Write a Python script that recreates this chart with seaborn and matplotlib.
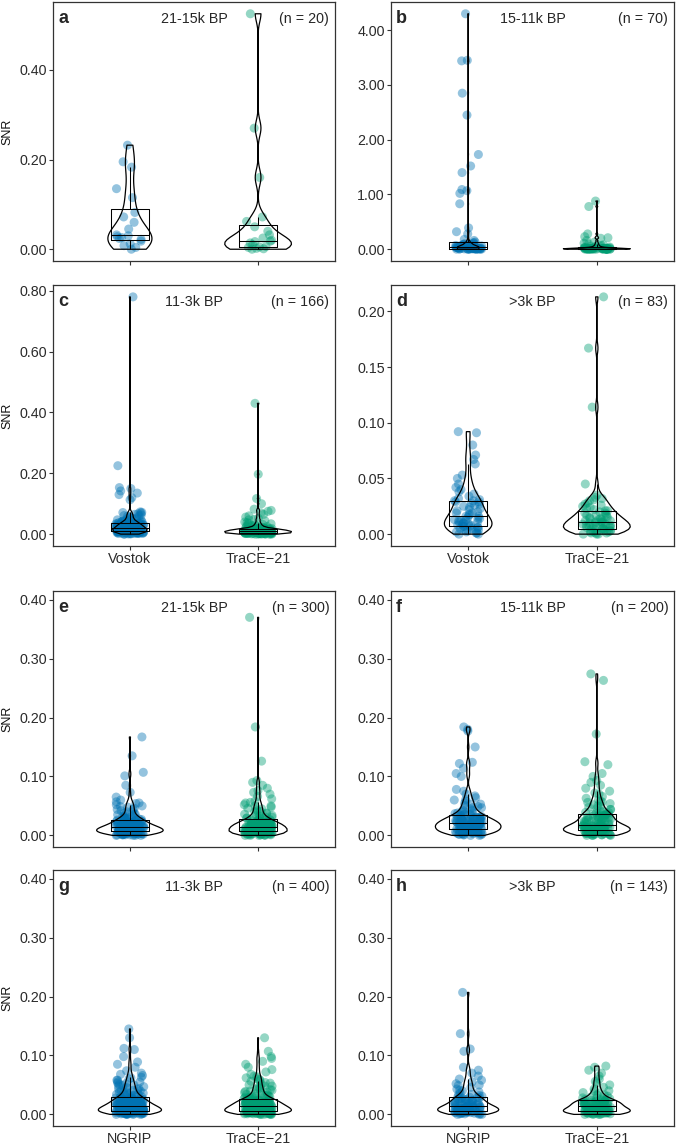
import numpy as np
import pandas as pd
import matplotlib
matplotlib.use("Agg")
import matplotlib.pyplot as plt
import seaborn as sns

sns.set_style("white")
plt.rcParams["font.family"] = ["Liberation Sans", "DejaVu Sans"]

# SNR values, stored in thousandths (divided by 1000 below)
# top block: Vostok vs TraCE-21
a_vostok = [0, 4, 8, 12, 18, 22, 24, 26, 28, 30, 32, 45, 60, 72, 82, 115, 135, 183, 195, 232]
a_trace = [0, 1, 2, 4, 5, 6, 10, 14, 17, 18, 20, 25, 32, 40, 50, 62, 72, 160, 270, 525]

b_vostok = [4300, 3450, 3440, 2850, 2450, 1730, 1520, 1400, 1090, 1070, 1020, 830, 390, 320, 280,
            180, 160, 130, 120, 110, 100, 95, 90, 85, 80, 75, 70, 65, 60, 55, 50, 48, 45, 42, 40,
            38, 36, 34, 32, 30, 28, 26, 24, 22, 20, 19, 18, 17, 16, 15, 14, 13, 12, 11, 10, 9, 8,
            7, 6, 5, 5, 4, 3, 3, 2, 2, 1, 1, 0, 0, 0]
b_trace = [880, 780, 280, 230, 210, 200, 160, 130, 110, 95, 80, 70, 60, 50, 45, 40, 35, 30, 28, 25,
           22, 20, 18, 17, 16, 15, 14, 13, 12, 11, 10, 10, 9, 9, 8, 8, 7, 7, 6, 6, 5, 5, 5, 4, 4, 4,
           3, 3, 3, 2, 2, 2, 1, 1, 1, 0, 0, 0, 0, 0]

c_vostok = [0, 0, 1, 1, 2, 2, 2, 3, 3, 3, 4, 4, 4, 5, 5, 5, 6, 6, 6, 7, 7, 7, 8, 8, 8, 9, 9, 9,
            10, 10, 10, 11,
            11, 12, 12, 12, 13, 13, 13, 14, 14, 14, 15, 15, 15, 16, 16, 16, 17, 17, 17, 18, 18, 18,
            19, 19, 19, 20, 20, 20, 21, 21, 21, 22,
            23, 23, 24, 24, 25, 25, 26, 26, 27, 27, 28, 28, 29, 29, 30, 30, 31, 31, 32, 32, 33, 33,
            34, 34, 35, 35, 36, 36, 37, 37, 38, 39,
            40, 41, 42, 43, 44, 45, 47, 49, 51, 53, 55, 57, 59, 61, 63, 65, 67, 69, 71, 72, 73,
            113, 120, 130, 135, 142, 150, 153, 225, 780,
            1, 2, 4, 6, 8, 9, 11, 12, 14, 15, 17, 18, 20, 22, 24, 26, 28, 31, 34, 37, 41, 46, 52, 60]
c_trace = [0, 0, 0, 0, 1, 1, 1, 1, 1, 2, 2, 2, 2, 2, 3, 3, 3, 3, 3, 3, 4, 4, 4, 4, 4, 5, 5, 5, 5, 5,
           5, 5, 6, 6, 6, 6, 7, 7, 7, 7, 7, 8, 8, 8, 8, 8, 9, 9, 9, 9, 9, 10, 10, 10, 10, 10, 10,
           11, 11, 11,
           11, 11, 12, 12, 12, 12, 13, 13, 13, 13, 14, 14, 14, 14, 15, 15, 15, 15, 16, 16, 16, 17,
           17, 17, 17, 18, 18, 18, 18, 18,
           19, 20, 21, 22, 23, 24, 25, 26, 28, 30, 32, 34, 36, 40, 44, 48, 52, 56, 60, 65, 70, 75,
           78, 82, 100, 117, 197, 430,
           0, 1, 2, 3, 4, 5, 6, 7, 8, 9, 10, 11, 12, 13, 14, 16, 18, 21, 25, 30, 38, 47]

d_vostok = [0, 0, 1, 1, 2, 2, 3, 3, 4, 4, 5, 5, 6, 6, 7, 7, 7,
            8, 8, 9, 9, 10, 10, 11, 11, 12, 12, 13, 13, 14, 14, 15, 16, 16,
            17, 18, 19, 19, 20, 21, 22, 23, 24, 25, 26, 27, 28, 29, 29, 30, 30,
            31, 32, 34, 36, 38, 40, 42, 45, 50, 53, 63, 67, 71, 80, 91, 92]
d_trace = [0, 0, 0, 1, 1, 1, 2, 2, 2, 3, 3, 3, 4, 4, 4, 5, 5,
           5, 6, 6, 6, 7, 7, 8, 8, 8, 9, 9, 10, 10, 10, 11, 11, 11,
           12, 12, 13, 13, 14, 14, 15, 15, 16, 17, 17, 18, 19, 19, 20, 21, 21,
           22, 23, 24, 25, 26, 27, 28, 30, 31, 32, 33, 35, 45, 114, 167, 213]

# bottom block: NGRIP vs TraCE-21
e_ngrip = [0, 0, 0, 1, 1, 1, 1, 2, 2, 2, 2, 3, 3, 3, 3, 4, 4, 4, 4, 5, 5, 5, 5, 5, 6, 6, 6, 6, 7, 7,
           7, 7, 8, 8, 8, 8, 9, 9, 9, 9, 9, 10, 10, 10, 10, 10, 11, 11, 11, 11, 11, 12, 12, 12, 12,
           12, 13, 13, 13, 13,
           14, 14, 14, 15, 15, 15, 16, 16, 16, 17, 17, 17, 18, 18, 18, 19, 19, 19, 20, 20, 21, 21,
           22, 22, 23, 23, 24, 24, 25, 25,
           26, 26, 27, 27, 28, 29, 29, 30, 31, 32, 33, 35, 36, 38, 40, 42, 44, 46, 48, 50, 52, 55,
           57, 60, 65, 73, 85, 101, 107, 135, 167,
           0, 1, 2, 2, 3, 4, 5, 5, 6, 7, 7, 8, 9, 9, 10, 11, 11, 12, 13, 14, 15, 16, 17, 18, 19, 20,
           21, 22, 24, 26, 28, 30, 33, 36, 40, 44, 49, 54]
e_trace = [0, 0, 0, 1, 1, 1, 1, 2, 2, 2, 2, 3, 3, 3, 3, 4, 4, 4, 4, 5, 5, 5, 5, 5, 6, 6, 6, 6, 7, 7,
           7, 7, 8, 8, 8, 9, 9, 9, 10, 10, 10, 11, 11, 11, 11, 12, 12, 12, 12, 13, 13, 13, 13, 14,
           14, 14, 14, 15, 15, 15,
           15, 16, 16, 16, 17, 17, 17, 18, 18, 18, 19, 19, 19, 20, 20, 20, 21, 21, 21, 22, 22, 23,
           23, 24, 24, 25, 25, 26, 26, 26,
           27, 28, 29, 30, 31, 32, 33, 34, 36, 38, 40, 42, 44, 46, 48, 50, 52, 55, 58, 62, 66, 70,
           73, 76, 80, 85, 90, 93, 126, 184, 370,
           0, 1, 2, 3, 3, 4, 5, 6, 6, 7, 8, 9, 10, 11, 12, 13, 14, 15, 16, 17, 18, 19, 20, 21, 22,
           23, 25, 27, 29, 31, 34, 37, 41, 45, 50, 56]

f_ngrip = [0, 0, 1, 1, 2, 2, 3, 3, 3, 4, 4, 4, 5, 5, 5, 6, 6, 6, 7, 7, 7, 8, 8, 8, 9, 9, 10, 10,
           11, 11, 12, 12, 12, 13, 13, 13, 14, 14, 14, 15, 15, 15, 16, 16, 16, 17, 17, 17, 18, 18,
           18, 19, 19, 19, 20, 20,
           20, 21, 21, 21, 22, 22, 22, 23, 23, 24, 24, 25, 25, 26, 26, 27, 27, 28, 28, 29, 29, 30,
           30, 31, 31, 32, 32, 33,
           34, 35, 36, 37, 38, 40, 41, 43, 45, 47, 49, 51, 53, 55, 58, 61, 64, 67, 70, 75, 78, 100,
           105, 114, 122, 124, 150, 177, 180, 184,
           1, 3, 5, 7, 9, 11, 13, 15, 17, 19, 21, 23, 25, 27, 29, 32, 35, 38, 42, 47, 53, 60]
f_trace = [0, 0, 0, 1, 1, 1, 2, 2, 2, 3, 3, 3, 4, 4, 4, 5, 5, 5, 6, 6, 6, 7, 7, 7, 8, 8, 8, 9,
           9, 9, 10, 10, 10, 10, 11, 11, 11, 11, 12, 12, 12, 12, 13, 13, 13, 13, 14, 14, 14, 14,
           15, 15, 15, 15, 16, 16,
           17, 17, 18, 19, 20, 21, 22, 23, 24, 24, 25, 26, 27, 28, 28, 29, 30, 31, 32, 32, 33, 34,
           34, 35, 35, 36, 36, 37,
           38, 39, 40, 42, 44, 46, 48, 50, 52, 54, 56, 58, 60, 63, 66, 70, 72, 75, 80, 85, 90, 93,
           100, 105, 120, 125, 172, 263, 274,
           0, 2, 4, 6, 8, 10, 12, 14, 16, 18, 20, 22, 24, 26, 29, 32, 35, 39, 44, 50, 57]

g_ngrip = [0, 0, 0, 0, 1, 1, 1, 1, 1, 2, 2, 2, 2, 2, 3, 3, 3, 3, 3, 3, 4, 4, 4, 4, 4, 4,
           5, 5, 5, 5, 5, 5, 5, 5,
           6, 6, 6, 7, 7, 7, 7, 8, 8, 8, 8, 9, 9, 9, 9, 10, 10, 10, 10, 11, 11, 11, 11, 12, 12, 12,
           12, 13, 13, 13, 13, 14, 14, 14,
           15, 15, 15, 16, 16, 16, 17, 17, 17, 18, 18, 18, 19, 19, 19, 20, 20, 20, 21, 21, 22, 22,
           22, 23, 23, 24, 24, 25, 25, 26, 26, 27, 27, 27,
           28, 28, 29, 30, 31, 32, 33, 34, 35, 36, 37, 38, 40, 41, 43, 45, 47, 49, 51, 53, 55, 58,
           60, 63, 66, 70, 74, 80, 85, 89, 98, 110, 112, 130, 145,
           0, 1, 1, 2, 2, 3, 3, 4, 4, 5, 5, 6, 6, 7, 7, 8, 8, 9, 9, 10, 10, 11, 11, 12, 12, 13, 13,
           14, 14, 15, 16, 17, 18, 19, 20, 21, 22, 23, 24, 25, 26, 27, 28, 29, 30, 32, 34, 36, 38,
           40, 42, 44, 46, 48, 50, 52, 55, 58, 62, 68]
g_trace = [0, 0, 0, 0, 1, 1, 1, 1, 1, 2, 2, 2, 2, 2, 3, 3, 3, 3, 3, 3, 4, 4, 4, 4, 4, 4,
           5, 5, 5, 5, 5, 5, 5, 5,
           6, 6, 6, 7, 7, 7, 7, 8, 8, 8, 8, 9, 9, 9, 9, 10, 10, 10, 10, 11, 11, 11, 11, 12, 12, 12,
           12, 13, 13, 13, 13, 14, 14, 14,
           15, 15, 15, 15, 16, 16, 16, 17, 17, 17, 18, 18, 18, 18, 19, 19, 19, 20, 20, 20, 21, 21,
           21, 22, 22, 22, 23, 23, 23, 24, 24, 24, 24, 24,
           25, 25, 26, 27, 28, 29, 30, 31, 32, 33, 34, 36, 38, 40, 42, 44, 46, 48, 50, 53, 56, 59,
           62, 65, 68, 72, 76, 80, 85, 90, 95, 98, 107, 130,
           0, 1, 1, 2, 2, 3, 3, 4, 4, 5, 5, 6, 6, 7, 7, 8, 8, 9, 9, 10, 10, 11, 11, 12, 12, 13, 13,
           14, 14, 15, 15, 16, 17, 18, 19, 20, 21, 22, 23, 24, 25, 26, 27, 28, 29, 30, 31, 33, 35,
           37, 39, 41, 43, 45, 48, 51, 54, 57, 60, 64]

h_ngrip = [0, 0, 1, 1, 1, 2, 2, 2, 3, 3, 3, 4, 4, 4, 4, 5, 5, 5, 5, 6, 6, 6,
           7, 7, 7, 8, 8, 8, 9, 9, 9, 10, 10, 10, 11, 11, 11, 12, 12, 12, 13, 13, 13, 14,
           15, 15, 16, 17, 17, 18, 19, 20, 20, 21, 22, 23, 23, 24, 25, 26, 26, 27, 28, 28, 29, 30,
           31, 32, 34, 36, 38, 40, 43, 46, 49, 52, 55, 58, 60, 65, 70, 75, 80, 107, 111, 137, 207,
           0, 2, 4, 6, 8, 10, 12, 14, 16, 19, 22, 25, 29, 34, 41, 50]
h_trace = [0, 0, 0, 1, 1, 1, 1, 2, 2, 2, 2, 3, 3, 3, 3, 4, 4, 4, 4, 4, 5, 5,
           5, 6, 6, 6, 7, 7, 7, 8, 8, 8, 9, 9, 9, 10, 10, 10, 11, 11, 12, 12, 13, 14,
           14, 15, 15, 16, 16, 17, 17, 18, 18, 18, 19, 19, 20, 20, 21, 21, 22, 22, 23, 23, 24, 24,
           25, 26, 27, 28, 29, 31, 33, 35, 37, 40, 43, 46, 50, 53, 56, 60, 65, 70, 75, 80, 82,
           0, 1, 3, 5, 7, 9, 11, 13, 15, 17, 19, 21, 24, 28, 33, 40]

top_cats = ["Vostok", "TraCE\u221221"]
bottom_cats = ["NGRIP", "TraCE\u221221"]
letters = ["a", "b", "c", "d", "e", "f", "g", "h"]
periods = ["21-15k BP", "15-11k BP", "11-3k BP", ">3k BP"] * 2
n_labels = ["(n = 20)", "(n = 70)", "(n = 166)", "(n = 83)",
            "(n = 300)", "(n = 200)", "(n = 400)", "(n = 143)"]
yticks = [[0, 0.2, 0.4], [0, 1, 2, 3, 4], [0, 0.2, 0.4, 0.6, 0.8],
          [0, 0.05, 0.1, 0.15, 0.2]] + [[0, 0.1, 0.2, 0.3, 0.4]] * 4

groups = [(a_vostok, a_trace), (b_vostok, b_trace), (c_vostok, c_trace), (d_vostok, d_trace),
          (e_ngrip, e_trace), (f_ngrip, f_trace), (g_ngrip, g_trace), (h_ngrip, h_trace)]

BLUE = "#0072B2"
GREEN = "#009E73"
FRAME = "#333333"
VIOLIN_W = 0.52


def nrd0(x):
    # R's default bandwidth (Silverman's rule of thumb with the IQR)
    sd = np.std(x, ddof=1)
    q75, q25 = np.percentile(x, [75, 25])
    lo = min(sd, (q75 - q25) / 1.34) or sd
    return 0.9 * lo * len(x) ** -0.2, sd


def kde_peak(x, bw):
    grid = np.linspace(x.min(), x.max(), 200)
    z = (grid[:, None] - x[None, :]) / bw
    dens = np.exp(-0.5 * z ** 2).sum(axis=1) / (len(x) * bw * np.sqrt(2 * np.pi))
    return dens.max()


W, H = 677, 1147
fig = plt.figure(figsize=(W / 100, H / 100), dpi=100)

# axes boxes in pixels: (left, right) per column, (top, bottom) per row
cols = [(53, 335), (391, 674)]
rows = [(2, 261), (285, 546), (591, 847), (870, 1126)]

np.random.seed(3)
for i in range(8):
    r, c = divmod(i, 2)
    (x0, x1), (y0, y1) = cols[c], rows[r]
    ax = fig.add_axes([x0 / W, 1 - y1 / H, (x1 - x0) / W, (y1 - y0) / H])

    cats = top_cats if r < 2 else bottom_cats
    v1, v2 = groups[i]
    df = pd.DataFrame({"src": [cats[0]] * len(v1) + [cats[1]] * len(v2),
                       "snr": np.array(v1 + v2) / 1000})

    sns.stripplot(data=df, x="src", y="snr", hue="src", order=cats, hue_order=cats,
                  palette=[BLUE, GREEN], jitter=0.11, size=6.5, alpha=0.42, linewidth=0,
                  legend=False, ax=ax, zorder=1)

    # one violin per group so each gets its own bandwidth; widths scaled like "area"
    bws, peaks = [], []
    for cat in cats:
        x = df.loc[df["src"] == cat, "snr"].to_numpy()
        bw, sd = nrd0(x)
        bws.append((bw, sd))
        peaks.append(kde_peak(x, bw))
    for k, cat in enumerate(cats):
        bw, sd = bws[k]
        sns.violinplot(data=df[df["src"] == cat], x="src", y="snr", order=cats, fill=False,
                       color="black", inner=None, cut=0, width=VIOLIN_W * peaks[k] / max(peaks),
                       linewidth=0.9, bw_method=bw / sd, bw_adjust=1, ax=ax)

    sns.boxplot(data=df, x="src", y="snr", order=cats, fill=False, color="black",
                linecolor="black", width=0.3, showfliers=False, showcaps=False,
                linewidth=0.75, ax=ax)

    ax.set_xlim(-0.6, 1.6)
    if r < 2:
        lo, hi = df["snr"].min(), df["snr"].max()
        pad = 0.05 * (hi - lo)
        ax.set_ylim(lo - pad, hi + pad)
    else:
        ax.set_ylim(-0.0197, 0.4147)
    ax.set_yticks(yticks[i])
    ax.set_yticklabels([f"{t:.2f}" for t in yticks[i]])
    ax.set_xlabel("")
    ax.set_ylabel("SNR" if c == 0 else "", fontsize=9, color="#111111", labelpad=4)
    if r in (0, 2):
        ax.set_xticklabels([])

    for s in ax.spines.values():
        s.set_visible(True)
        s.set_color(FRAME)
        s.set_linewidth(0.9)
    ax.tick_params(axis="both", direction="out", length=3, width=0.8, color=FRAME,
                   labelsize=10.3, labelcolor="#2b2b2b", left=True, bottom=True, pad=1.5)

    ax.text(0.018, 0.935, letters[i], transform=ax.transAxes, fontsize=13,
            fontweight="bold", va="center", ha="left")
    ax.text(0.5, 0.935, periods[i], transform=ax.transAxes, fontsize=10.3,
            va="center", ha="center")
    ax.text(0.98, 0.935, n_labels[i], transform=ax.transAxes, fontsize=10.3,
            va="center", ha="right")

fig.savefig("out.png", dpi=100)
